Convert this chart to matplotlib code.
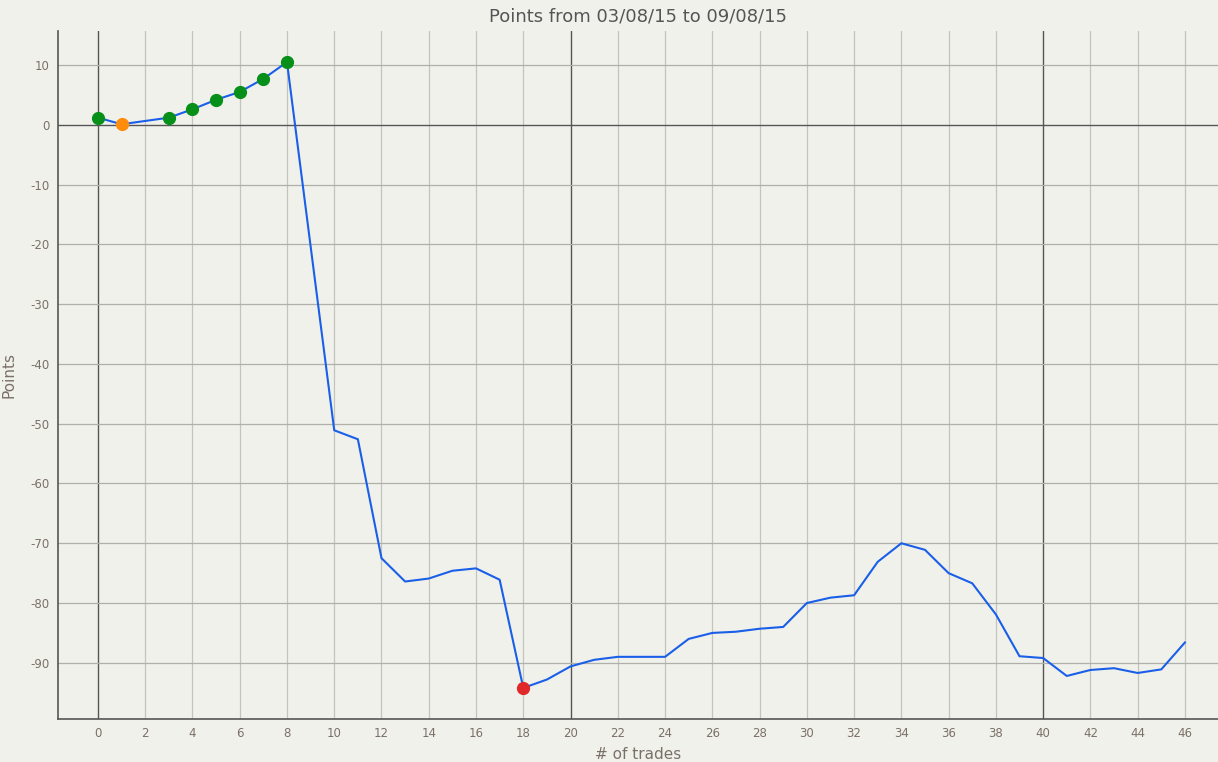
import matplotlib
matplotlib.use("Agg")
import matplotlib.pyplot as plt

plt.rcParams['axes.unicode_minus'] = False

# trades and cumulative points
trades = [0, 1, 3, 4, 5, 6, 7, 8, 10, 11, 12, 13, 14, 15, 16, 17, 18, 19, 20,
          21, 22, 23, 24, 25, 26, 27, 28, 29, 30, 31, 32, 33, 34, 35, 36, 37,
          38, 39, 40, 41, 42, 43, 44, 45, 46]
points = [1.2, 0.1, 1.2, 2.6, 4.2, 5.5, 7.7, 10.5, -51.1, -52.6, -72.5, -76.4,
          -75.9, -74.6, -74.2, -76.1, -94.2, -92.8, -90.6, -89.5, -89.0, -89.0,
          -89.0, -86.0, -85.0, -84.8, -84.3, -84.0, -80.0, -79.1, -78.7, -73.1,
          -70.0, -71.1, -75.0, -76.7, -81.9, -88.9, -89.2, -92.2, -91.2, -90.9,
          -91.7, -91.1, -86.6]

# highlighted points
high_x = [0, 3, 4, 5, 6, 7, 8]
high_y = [1.2, 1.2, 2.6, 4.2, 5.5, 7.7, 10.5]
low_x = [1]
low_y = [0.1]
min_x = [18]
min_y = [-94.2]

bg = '#f1f1ec'
txt = '#7a7068'

fig = plt.figure(figsize=(12.18, 7.62), dpi=100, facecolor=bg)
ax = fig.add_axes([58/1218, 43/762, 1 - 58/1218, (719-31)/762])
ax.set_facecolor(bg)

ax.set_xlim(-1.69, 47.4)
ax.set_ylim(-99.4, 15.7)

# grid
for x in range(0, 47, 2):
  if x % 20 == 0:
    ax.axvline(x, color='#555555', lw=1, zorder=1)
  else:
    ax.axvline(x, color='#c4c4bf', lw=0.9, zorder=1)
for y in range(-90, 11, 10):
  if y == 0:
    ax.axhline(y, color='#555555', lw=1, zorder=1)
  else:
    ax.axhline(y, color='#b0b0aa', lw=0.9, zorder=1)

ax.plot(trades, points, color='#1a5fe8', lw=1.5, zorder=3)
ax.plot(high_x, high_y, 'o', color='#079019', ms=8.5, zorder=4)
ax.plot(low_x, low_y, 'o', color='#ff8c0a', ms=8.5, zorder=4)
ax.plot(min_x, min_y, 'o', color='#e02828', ms=8.5, zorder=4)

ax.set_xticks(range(0, 47, 2))
ax.set_yticks(range(-90, 11, 10))
ax.tick_params(length=0, colors=txt, labelsize=8.5, pad=6)
for s in ['top', 'right']:
  ax.spines[s].set_visible(False)
for s in ['left', 'bottom']:
  ax.spines[s].set_color('#555555')
  ax.spines[s].set_linewidth(1.2)

ax.set_xlabel('# of trades', color=txt, fontsize=11, labelpad=5)
ax.set_ylabel('Points', color=txt, fontsize=11, labelpad=10)
fig.text(0.524, 0.978, 'Points from 03/08/15 to 09/08/15', color='#555555',
         fontsize=13, ha='center', va='center')

fig.savefig('out.png', dpi=100, facecolor=bg)
